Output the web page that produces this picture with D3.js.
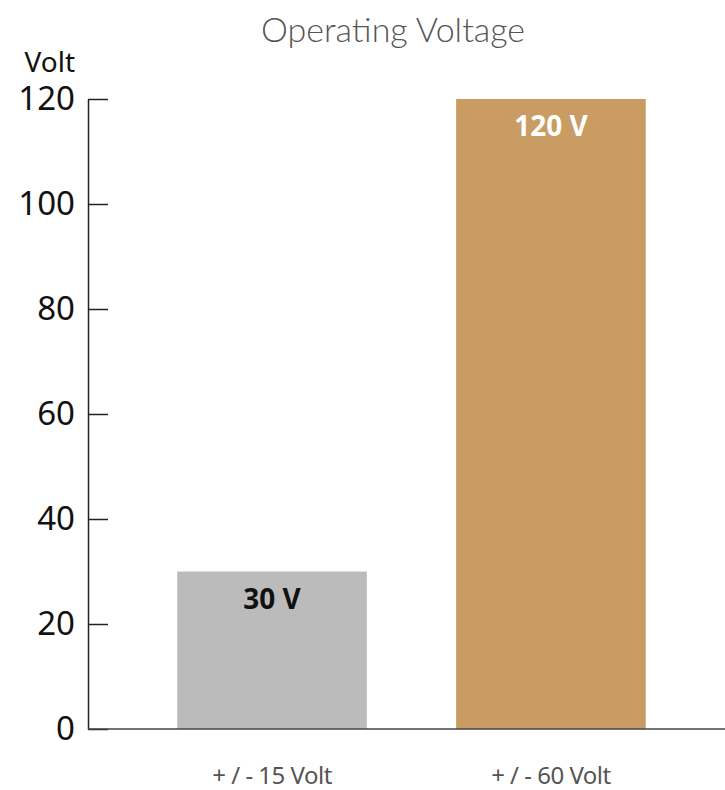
<!DOCTYPE html>
<html>
<head>
<meta charset="utf-8">
<script src="https://cdn.jsdelivr.net/npm/d3@7"></script>
<style>
  body { margin: 0; background: #fff; }
  svg { display: block; }
</style>
</head>
<body>
<div id="chart"></div>
<script>
// chart data
var categories = ["+ / - 15 Volt", "+ / - 60 Volt"];
var values = [30, 120];
var valueLabels = ["30 V", "120 V"];
var yTicks = [0, 20, 40, 60, 80, 100, 120];

var width = 725;
var height = 790;
var barColors = ["#bbbbbb", "#c89c62"];
var labelColors = ["#111111", "#ffffff"];

var svg = d3.select("#chart").append("svg")
  .attr("width", width)
  .attr("height", height)
  .style("font-family", "'Noto Sans', sans-serif");

var xScale = d3.scaleBand()
  .domain(categories)
  .range([88, 735])
  .paddingInner(0.32)
  .paddingOuter(0.32);

var yScale = d3.scaleLinear()
  .domain([0, 120])
  .range([729, 99]);

// title
svg.append("text")
  .attr("x", 393)
  .attr("y", 42)
  .attr("text-anchor", "middle")
  .style("font-family", "Lato, sans-serif")
  .style("font-weight", 300)
  .style("font-size", "34px")
  .attr("fill", "#555")
  .text("Operating Voltage");

// y axis title
svg.append("text")
  .attr("x", 75)
  .attr("y", 72)
  .attr("text-anchor", "end")
  .style("font-size", "28px")
  .attr("fill", "#111")
  .text("Volt");

// bars
svg.selectAll(".bar")
  .data(values)
  .enter()
  .append("rect")
  .attr("class", "bar")
  .attr("x", (d, i) => xScale(categories[i]))
  .attr("y", d => yScale(d))
  .attr("width", xScale.bandwidth())
  .attr("height", d => yScale(0) - yScale(d))
  .attr("fill", (d, i) => barColors[i]);

// value labels inside bars
svg.selectAll(".val")
  .data(values)
  .enter()
  .append("text")
  .attr("class", "val")
  .attr("x", (d, i) => xScale(categories[i]) + xScale.bandwidth() / 2)
  .attr("y", d => yScale(d) + 37)
  .attr("text-anchor", "middle")
  .style("font-size", "28px")
  .style("font-weight", "bold")
  .attr("fill", (d, i) => labelColors[i])
  .text((d, i) => valueLabels[i]);

// y axis, ticks point inward
var yAxis = d3.axisLeft(yScale)
  .tickValues(yTicks)
  .tickSizeInner(-20)
  .tickSizeOuter(0)
  .tickPadding(13);

var yg = svg.append("g")
  .attr("transform", "translate(88,0)")
  .call(yAxis);
yg.select(".domain").attr("stroke", "#222").attr("stroke-width", 1.5);
yg.selectAll(".tick line").attr("stroke", "#222").attr("stroke-width", 1.5);
yg.selectAll(".tick text")
  .style("font-size", "33px")
  .style("font-family", "'Noto Sans', sans-serif")
  .attr("fill", "#111");

// x axis baseline
svg.append("line")
  .attr("x1", 88)
  .attr("x2", 725)
  .attr("y1", yScale(0))
  .attr("y2", yScale(0))
  .attr("stroke", "#444")
  .attr("stroke-width", 1.5);

// category labels
svg.selectAll(".cat")
  .data(categories)
  .enter()
  .append("text")
  .attr("class", "cat")
  .attr("x", d => xScale(d) + xScale.bandwidth() / 2)
  .attr("y", 784)
  .attr("text-anchor", "middle")
  .style("font-size", "24px")
  .style("letter-spacing", "-0.5px")
  .attr("fill", "#555")
  .text(d => d);
</script>
</body>
</html>
